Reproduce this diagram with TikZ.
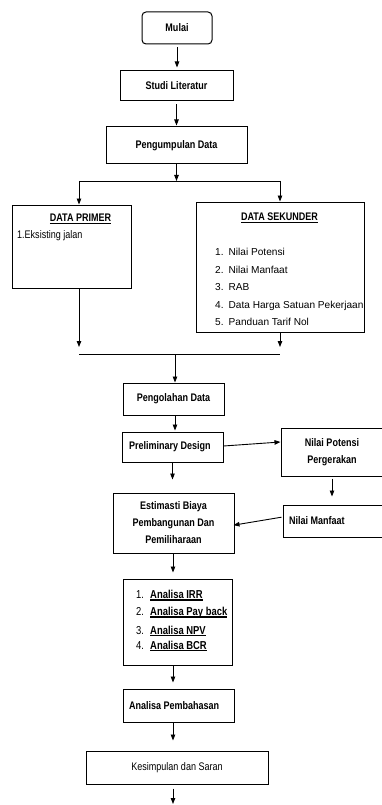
\documentclass[tikz,border=0pt]{standalone}
\usepackage{fontspec}
\setmainfont{Liberation Sans}[FakeStretch=0.82]
\newfontfamily\hurufbiasa{Liberation Sans}
\usetikzlibrary{arrows.meta}
\newcommand{\garisbawah}[2][1pt]{\setbox0\hbox{#2}\leavevmode\rlap{\rule[-2.2pt]{\wd0}{#1}}\box0} % tebal garis, teks
\tikzset{
  kotak/.style={draw, line width=1pt, inner sep=0pt, align=center, font=\fontsize{11}{17}\selectfont\bfseries},
  panah/.style={-{Triangle[length=6pt,width=4.5pt]}, line width=0.9pt},
  garis/.style={line width=0.9pt},
  isi/.style={inner sep=0pt, align=left, font=\fontsize{11}{17}\selectfont},
}

\begin{document}
\begin{tikzpicture}[x=1pt,y=1pt]
  \useasboundingbox (0,0) rectangle (382,-805);
  \clip (0,0) rectangle (382,-805);

  \node[kotak, rounded corners=4pt, minimum width=70, minimum height=32] (mulai) at (177,-28) {Mulai};
  \node[kotak, minimum width=113, minimum height=30] (studi) at (176.5,-86) {Studi Literatur};
  \node[kotak, minimum width=141, minimum height=37] (kumpul) at (176.5,-145.5) {Pengumpulan Data};

  % data primer dan sekunder
  \node[kotak, minimum width=119, minimum height=83] (primer) at (71.5,-246.5) {};
  \node[isi, font=\fontsize{11}{17}\selectfont\bfseries] (primerJudul) at (80.5,-219) {\garisbawah{DATA PRIMER}};
  \node[isi, anchor=west] (primerIsi) at (17,-236) {1.Eksisting jalan};
  \node[kotak, minimum width=168, minimum height=130] (sekunder) at (280,-267) {};
  \node[isi, font=\fontsize{11}{17}\selectfont\bfseries] (sekunderJudul) at (279.5,-218) {\garisbawah{DATA SEKUNDER}};
  \node[isi, anchor=north west, font=\hurufbiasa\fontsize{10.1}{17.5}\selectfont] (sekunderIsi) at (215,-248)
    {\makebox[13.5pt][l]{1.}Nilai Potensi\\
     \makebox[13.5pt][l]{2.}Nilai Manfaat\\
     \makebox[13.5pt][l]{3.}RAB\\
     \makebox[13.5pt][l]{4.}Data Harga Satuan Pekerjaan\\
     \makebox[13.5pt][l]{5.}Panduan Tarif Nol};

  \node[kotak, minimum width=101, minimum height=32] (olah) at (173.5,-399) {Pengolahan Data};
  \node[kotak, minimum width=101, minimum height=30] (prelim) at (172.5,-447) {\makebox[87pt][l]{Preliminary Design}};
  \node[kotak, minimum width=102, minimum height=48] (potensi) at (332,-452) {Nilai Potensi\\Pergerakan};
  \node[kotak, minimum width=100, minimum height=32] (manfaat) at (333,-521) {\makebox[88pt][l]{Nilai Manfaat}};
  \node[kotak, minimum width=121, minimum height=60] (estimasi) at (173.5,-523) {Estimasti Biaya\\Pembangunan Dan\\Pemiliharaan};

  % analisa
  \node[kotak, minimum width=109, minimum height=86] (analisa) at (177.5,-622) {};
  \node[isi, anchor=north west, font=\fontsize{11.5}{17}\selectfont] (analisaIsi) at (136,-590)
    {\makebox[14pt][l]{1.}\textbf{\garisbawah[1.5pt]{Analisa IRR}}\\
     \makebox[14pt][l]{2.}\textbf{\garisbawah[1.5pt]{Analisa Pay back}}\\[1.5pt]
     \makebox[14pt][l]{3.}\textbf{\garisbawah[1.5pt]{Analisa NPV}}\\[-2pt]
     \makebox[14pt][l]{4.}\textbf{\garisbawah[1.5pt]{Analisa BCR}}};
  \node[kotak, minimum width=111, minimum height=33] (bahas) at (178.5,-705.5) {\makebox[99pt][l]{Analisa Pembahasan}};
  \node[kotak, minimum width=182, minimum height=33, font=\fontsize{11}{17}\selectfont] (simpul) at (177,-767.5) {Kesimpulan dan Saran};

  \coordinate (bagi) at (176.5,-181);
  \coordinate (bagiKiri) at (79,-181);
  \coordinate (bagiKanan) at (280,-181);
  \coordinate (gabung) at (175,-354);
  \coordinate (gabungKiri) at (79,-354);
  \coordinate (gabungKanan) at (280,-354);
  \coordinate (akhir) at (173,-804);

  \draw[panah, shorten <=3pt, shorten >=3pt] (mulai.south) -- (mulai.south |- studi.north);
  \draw[panah, shorten <=3pt, shorten >=1pt] (studi.south) -- (studi.south |- kumpul.north);
  \draw[panah] (kumpul.south) -- (bagi);
  \draw[garis] (bagiKiri) -- (bagiKanan);
  \draw[panah] (bagiKiri) -- (bagiKiri |- primer.north);
  \draw[panah] (bagiKanan) -- (sekunder.north);
  \draw[panah, shorten >=7pt] (gabungKiri |- primer.south) -- (gabungKiri);
  \draw[panah, shorten >=7pt] (sekunder.south) -- (gabungKanan);
  \draw[garis] (gabungKiri) -- (gabungKanan);
  \draw[panah] (gabung) -- (gabung |- olah.north);
  \draw[panah, shorten >=1pt] (olah.south -| gabung) -- (gabung |- prelim.north);
  \draw[panah, shorten >=13pt] (prelim.south) -- (prelim.south |- estimasi.north);
  \draw[panah] ([yshift=1pt]prelim.east) -- ([yshift=10pt]potensi.west);
  \draw[panah, shorten <=2pt, shorten >=8pt] (potensi.south) -- (potensi.south |- manfaat.north);
  \draw[panah, shorten <=1pt, shorten >=-1pt] ([yshift=4pt]manfaat.west) -- ([yshift=-2pt]estimasi.east);
  \draw[panah, shorten >=6pt] (akhir |- estimasi.south) -- (akhir |- analisa.north);
  \draw[panah, shorten >=6pt] (akhir |- analisa.south) -- (akhir |- bahas.north);
  \draw[panah, shorten >=10pt] (akhir |- bahas.south) -- (akhir |- simpul.north);
  \draw[panah, shorten <=4pt] (akhir |- simpul.south) -- (akhir);
\end{tikzpicture}
\end{document}
